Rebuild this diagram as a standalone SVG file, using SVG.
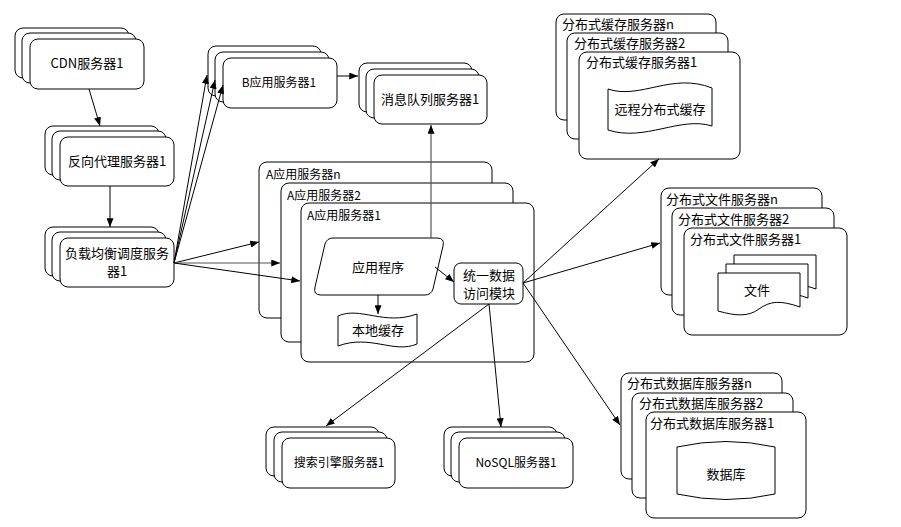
<svg xmlns="http://www.w3.org/2000/svg" width="901" height="527" viewBox="0 0 901 527">
<style>
.b{fill:#fff;stroke:#000;stroke-width:1}
.t{font-family:"Noto Sans CJK SC","Noto Sans",sans-serif;font-size:13px;fill:#000}
.s{font-size:12px}
.m{text-anchor:middle}
.c{fill:none;stroke:#000;stroke-width:1;marker-end:url(#ah)}
.g{stroke:#555;stroke-width:1.2}
</style>
<defs>
<marker id="ah" viewBox="0 0 10 8" refX="10" refY="4" markerWidth="9" markerHeight="7" orient="auto" markerUnits="userSpaceOnUse"><path d="M0,0 L10,4 L0,8 Z" fill="#000"/></marker>
<path id="doc" d="M0,0 H82 V34 C62,27 52,28 41,36 C30,44 18,43 0,38 Z"/>
</defs>
<rect width="901" height="527" fill="#fff"/>

<g id="cdn">
<rect class="b" x="15" y="28" width="114" height="50" rx="8"/>
<rect class="b" x="22" y="33" width="114" height="50" rx="8"/>
<rect class="b" x="30" y="39" width="114" height="50" rx="8"/>
<text class="t m" x="87" y="68">CDN服务器1</text>
</g>
<g id="proxy">
<rect class="b" x="45" y="126" width="114" height="49" rx="8"/>
<rect class="b" x="52" y="131" width="114" height="49" rx="8"/>
<rect class="b" x="60" y="137" width="114" height="49" rx="8"/>
<text class="t m" x="117" y="166">反向代理服务器1</text>
</g>
<g id="lb">
<rect class="b" x="45" y="227" width="114" height="49" rx="8"/>
<rect class="b" x="52" y="232" width="114" height="49" rx="8"/>
<rect class="b" x="60" y="238" width="114" height="49" rx="8"/>
<text class="t m" x="117" y="258">负载均衡调度服务</text>
<text class="t m" x="117" y="276">器1</text>
</g>
<g id="bapp">
<rect class="b" x="208" y="46" width="113" height="50" rx="8"/>
<rect class="b" x="215" y="52" width="114" height="50" rx="8"/>
<rect class="b" x="223" y="58" width="114" height="50" rx="8"/>
<text class="t m s" x="279" y="87">B应用服务器1</text>
</g>
<g id="mq">
<rect class="b" x="359" y="63" width="113" height="49" rx="8"/>
<rect class="b" x="366" y="69" width="113" height="49" rx="8"/>
<rect class="b" x="374" y="75" width="113" height="49" rx="8"/>
<text class="t m" x="430" y="104">消息队列服务器1</text>
</g>
<g id="aapp">
<rect class="b" x="259" y="162" width="233" height="156" rx="8"/>
<text class="t s" x="266" y="179">A应用服务器n</text>
<rect class="b" x="281" y="183" width="232" height="159" rx="8"/>
<text class="t s" x="287" y="200">A应用服务器2</text>
<rect class="b" x="301" y="203" width="233" height="159" rx="8"/>
<text class="t s" x="307" y="220">A应用服务器1</text>
</g>
<g id="program">
<path class="b" d="M333,238 L437,238 Q445,238 443,246 L433,289 Q431,295 425,295 L321,295 Q313,295 315,287 L325,244 Q327,238 333,238 Z"/>
<text class="t m" x="378" y="272">应用程序</text>
</g>
<g id="localcache">
<path class="b" d="M338,316 C360,306 384,326 417,314 L417,344 C394,354 370,334 338,346 Z"/>
<text class="t m" x="378" y="335">本地缓存</text>
</g>
<g id="dal">
<rect class="b" x="454" y="263" width="69" height="41" rx="7"/>
<text class="t m" x="489" y="280">统一数据</text>
<text class="t m" x="489" y="298">访问模块</text>
</g>
<g id="cache">
<rect class="b" x="556" y="14" width="160" height="106" rx="8"/>
<text class="t" x="562" y="29">分布式缓存服务器n</text>
<rect class="b" x="567" y="33" width="161" height="106" rx="8"/>
<text class="t" x="574" y="48">分布式缓存服务器2</text>
<rect class="b" x="579" y="52" width="161" height="107" rx="8"/>
<text class="t" x="586" y="67">分布式缓存服务器1</text>
<path class="b" d="M608,89 C640,100 672,72 712,88 L712,126 C680,116 645,142 608,130 Z"/>
<text class="t m" x="660" y="114">远程分布式缓存</text>
</g>
<g id="file">
<rect class="b" x="661" y="188" width="161" height="107" rx="8"/>
<text class="t" x="666" y="204">分布式文件服务器n</text>
<rect class="b" x="672" y="208" width="162" height="107" rx="8"/>
<text class="t" x="678" y="224">分布式文件服务器2</text>
<rect class="b" x="684" y="228" width="163" height="107" rx="8"/>
<text class="t" x="690" y="244">分布式文件服务器1</text>
<use href="#doc" class="b" x="734" y="255"/>
<use href="#doc" class="b" x="726" y="264"/>
<use href="#doc" class="b" x="718" y="273"/>
<text class="t m" x="757" y="295">文件</text>
</g>
<g id="db">
<rect class="b" x="621" y="373" width="161" height="106" rx="8"/>
<text class="t" x="627" y="388">分布式数据库服务器n</text>
<rect class="b" x="632" y="393" width="161" height="105" rx="8"/>
<text class="t" x="639" y="408">分布式数据库服务器2</text>
<rect class="b" x="646" y="412" width="160" height="106" rx="8"/>
<text class="t" x="650" y="428">分布式数据库服务器1</text>
<path class="b" d="M677,447 Q726,436 775,447 L775,494 Q726,505 677,494 Z"/>
<text class="t m" x="726" y="479">数据库</text>
</g>
<g id="search">
<rect class="b" x="266" y="427" width="113" height="49" rx="8"/>
<rect class="b" x="274" y="432" width="113" height="50" rx="8"/>
<rect class="b" x="282" y="438" width="113" height="50" rx="8"/>
<text class="t m s" x="339" y="467">搜索引擎服务器1</text>
</g>
<g id="nosql">
<rect class="b" x="444" y="427" width="113" height="49" rx="8"/>
<rect class="b" x="451" y="432" width="114" height="50" rx="8"/>
<rect class="b" x="459" y="438" width="114" height="50" rx="8"/>
<text class="t m s" x="516" y="467">NoSQL服务器1</text>
</g>

<g id="connectors">
<line class="c" x1="89" y1="89" x2="100" y2="126"/>
<line class="c" x1="110" y1="186" x2="110" y2="227"/>
<line class="c" x1="174" y1="263" x2="207" y2="75"/>
<line class="c" x1="174" y1="263" x2="215" y2="80"/>
<line class="c" x1="174" y1="263" x2="223" y2="85"/>
<line class="c" x1="174" y1="263" x2="259" y2="242"/>
<line class="c g" x1="174" y1="263" x2="280" y2="263"/>
<line class="c" x1="174" y1="263" x2="300" y2="281"/>
<line class="c" x1="337" y1="76" x2="358" y2="76"/>
<line class="c g" x1="431" y1="238" x2="431" y2="125"/>
<line class="c" x1="378" y1="295" x2="378" y2="314"/>
<line class="c" x1="435" y1="267" x2="454" y2="282"/>
<line class="c" x1="523" y1="283" x2="659" y2="159"/>
<line class="c" x1="523" y1="283" x2="660" y2="243"/>
<line class="c" x1="523" y1="283" x2="620" y2="425"/>
<line class="c" x1="489" y1="304" x2="326" y2="426"/>
<line class="c" x1="489" y1="304" x2="501" y2="427"/>
</g>
</svg>
